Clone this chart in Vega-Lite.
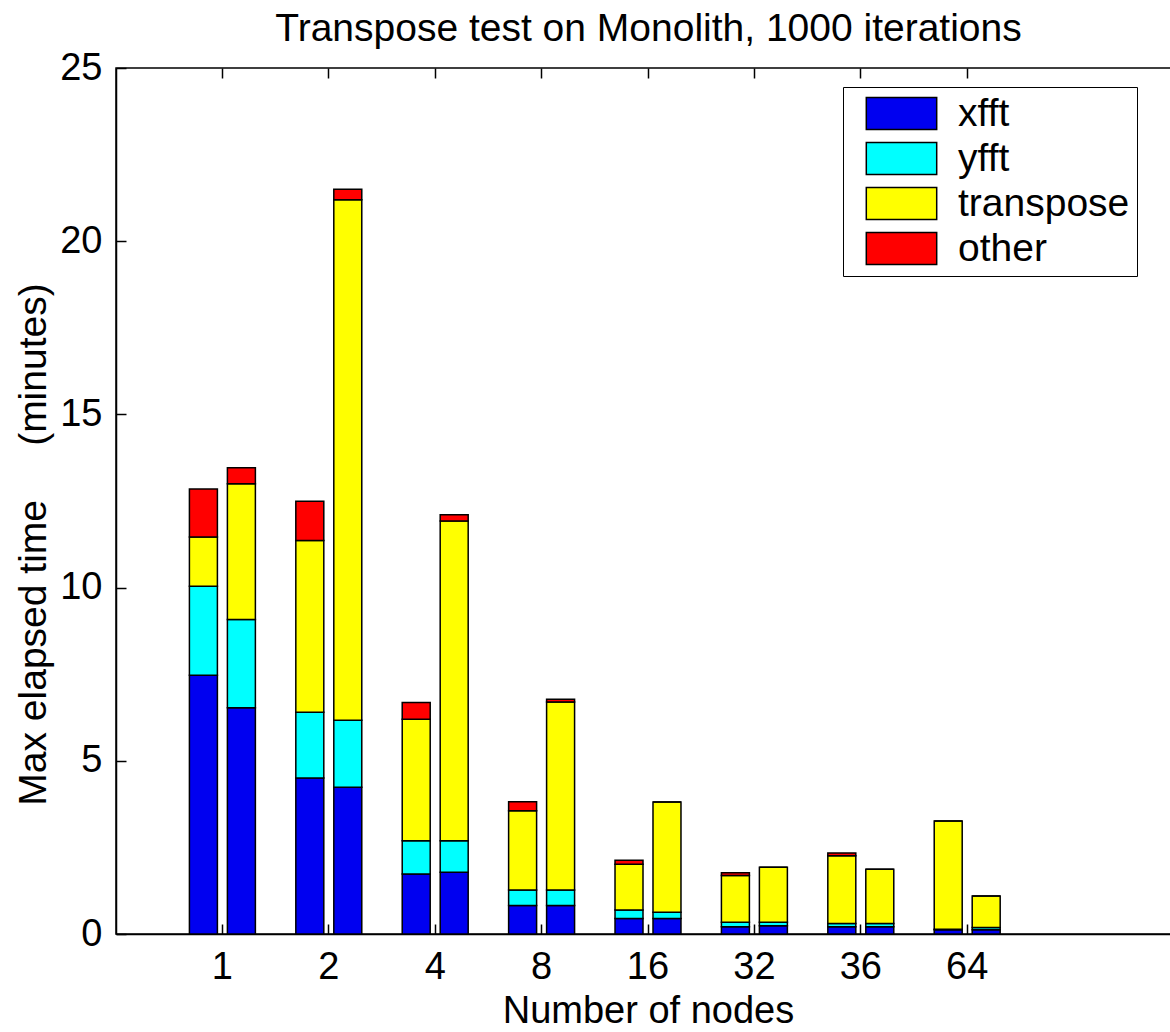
{
  "$schema": "https://vega.github.io/schema/vega-lite/v6.json",
  "width": 1064,
  "height": 866,
  "autosize": {"type": "none"},
  "padding": {"left": 116, "top": 68, "right": 0, "bottom": 98},
  "background": "white",
  "config": {
    "view": {"stroke": "black", "strokeWidth": 1.5},
    "font": "Liberation Sans",
    "axis": {
      "labelFont": "Liberation Sans",
      "labelFontSize": 38,
      "labelColor": "black",
      "titleFont": "Liberation Sans",
      "titleFontSize": 38,
      "titleFontWeight": "normal",
      "titleColor": "black",
      "domainColor": "black",
      "domainWidth": 1.5,
      "tickColor": "black",
      "tickWidth": 1.5,
      "grid": false
    },
    "legend": {
      "labelFont": "Liberation Sans",
      "labelFontSize": 39,
      "labelColor": "black"
    }
  },
  "data": {
    "values": [
      {"nodes": "1", "run": "a", "part": "xfft", "minutes": 7.47},
      {"nodes": "1", "run": "a", "part": "yfft", "minutes": 2.57},
      {"nodes": "1", "run": "a", "part": "transpose", "minutes": 1.42},
      {"nodes": "1", "run": "a", "part": "other", "minutes": 1.39},
      {"nodes": "1", "run": "b", "part": "xfft", "minutes": 6.53},
      {"nodes": "1", "run": "b", "part": "yfft", "minutes": 2.55},
      {"nodes": "1", "run": "b", "part": "transpose", "minutes": 3.92},
      {"nodes": "1", "run": "b", "part": "other", "minutes": 0.46},
      {"nodes": "2", "run": "a", "part": "xfft", "minutes": 4.5},
      {"nodes": "2", "run": "a", "part": "yfft", "minutes": 1.9},
      {"nodes": "2", "run": "a", "part": "transpose", "minutes": 4.96},
      {"nodes": "2", "run": "a", "part": "other", "minutes": 1.13},
      {"nodes": "2", "run": "b", "part": "xfft", "minutes": 4.24},
      {"nodes": "2", "run": "b", "part": "yfft", "minutes": 1.93},
      {"nodes": "2", "run": "b", "part": "transpose", "minutes": 15.03},
      {"nodes": "2", "run": "b", "part": "other", "minutes": 0.3},
      {"nodes": "4", "run": "a", "part": "xfft", "minutes": 1.73},
      {"nodes": "4", "run": "a", "part": "yfft", "minutes": 0.96},
      {"nodes": "4", "run": "a", "part": "transpose", "minutes": 3.51},
      {"nodes": "4", "run": "a", "part": "other", "minutes": 0.48},
      {"nodes": "4", "run": "b", "part": "xfft", "minutes": 1.78},
      {"nodes": "4", "run": "b", "part": "yfft", "minutes": 0.91},
      {"nodes": "4", "run": "b", "part": "transpose", "minutes": 9.23},
      {"nodes": "4", "run": "b", "part": "other", "minutes": 0.18},
      {"nodes": "8", "run": "a", "part": "xfft", "minutes": 0.82},
      {"nodes": "8", "run": "a", "part": "yfft", "minutes": 0.45},
      {"nodes": "8", "run": "a", "part": "transpose", "minutes": 2.29},
      {"nodes": "8", "run": "a", "part": "other", "minutes": 0.26},
      {"nodes": "8", "run": "b", "part": "xfft", "minutes": 0.82},
      {"nodes": "8", "run": "b", "part": "yfft", "minutes": 0.45},
      {"nodes": "8", "run": "b", "part": "transpose", "minutes": 5.43},
      {"nodes": "8", "run": "b", "part": "other", "minutes": 0.08},
      {"nodes": "16", "run": "a", "part": "xfft", "minutes": 0.45},
      {"nodes": "16", "run": "a", "part": "yfft", "minutes": 0.24},
      {"nodes": "16", "run": "a", "part": "transpose", "minutes": 1.32},
      {"nodes": "16", "run": "a", "part": "other", "minutes": 0.12},
      {"nodes": "16", "run": "b", "part": "xfft", "minutes": 0.45},
      {"nodes": "16", "run": "b", "part": "yfft", "minutes": 0.18},
      {"nodes": "16", "run": "b", "part": "transpose", "minutes": 3.18},
      {"nodes": "16", "run": "b", "part": "other", "minutes": 0.0},
      {"nodes": "32", "run": "a", "part": "xfft", "minutes": 0.21},
      {"nodes": "32", "run": "a", "part": "yfft", "minutes": 0.13},
      {"nodes": "32", "run": "a", "part": "transpose", "minutes": 1.35},
      {"nodes": "32", "run": "a", "part": "other", "minutes": 0.08},
      {"nodes": "32", "run": "b", "part": "xfft", "minutes": 0.24},
      {"nodes": "32", "run": "b", "part": "yfft", "minutes": 0.1},
      {"nodes": "32", "run": "b", "part": "transpose", "minutes": 1.59},
      {"nodes": "32", "run": "b", "part": "other", "minutes": 0.0},
      {"nodes": "36", "run": "a", "part": "xfft", "minutes": 0.21},
      {"nodes": "36", "run": "a", "part": "yfft", "minutes": 0.09},
      {"nodes": "36", "run": "a", "part": "transpose", "minutes": 1.96},
      {"nodes": "36", "run": "a", "part": "other", "minutes": 0.08},
      {"nodes": "36", "run": "b", "part": "xfft", "minutes": 0.21},
      {"nodes": "36", "run": "b", "part": "yfft", "minutes": 0.09},
      {"nodes": "36", "run": "b", "part": "transpose", "minutes": 1.57},
      {"nodes": "36", "run": "b", "part": "other", "minutes": 0.0},
      {"nodes": "64", "run": "a", "part": "xfft", "minutes": 0.12},
      {"nodes": "64", "run": "a", "part": "yfft", "minutes": 0.02},
      {"nodes": "64", "run": "a", "part": "transpose", "minutes": 3.12},
      {"nodes": "64", "run": "a", "part": "other", "minutes": 0.0},
      {"nodes": "64", "run": "b", "part": "xfft", "minutes": 0.12},
      {"nodes": "64", "run": "b", "part": "yfft", "minutes": 0.07},
      {"nodes": "64", "run": "b", "part": "transpose", "minutes": 0.91},
      {"nodes": "64", "run": "b", "part": "other", "minutes": 0.0}
    ]
  },
  "layer": [
    {
      "transform": [
        {"calculate": "indexof(['xfft','yfft','transpose','other'], datum.part)", "as": "stackOrder"}
      ],
      "mark": {"type": "bar", "stroke": "black", "strokeWidth": 1.5, "opacity": 1},
      "encoding": {
        "x": {
          "field": "nodes",
          "type": "nominal",
          "scale": {
            "domain": ["1", "2", "4", "8", "16", "32", "36", "64", "pad"],
            "paddingInner": 0.38,
            "paddingOuter": 0.69,
            "align": 0.5
          },
          "axis": {
            "orient": "bottom",
            "values": ["1", "2", "4", "8", "16", "32", "36", "64"],
            "title": "Number of nodes",
            "labelAngle": 0,
            "tickSize": -10,
            "labelPadding": 24,
            "titleY": 88,
            "titleBaseline": "alphabetic"
          }
        },
        "xOffset": {
          "field": "run",
          "type": "nominal",
          "scale": {"paddingInner": 0.263, "paddingOuter": 0}
        },
        "y": {
          "field": "minutes",
          "type": "quantitative",
          "stack": "zero",
          "scale": {"domain": [0, 25], "nice": false},
          "axis": {
            "values": [0, 5, 10, 15, 20, 25],
            "title": "Max elapsed time\u00a0\u00a0\u00a0\u00a0\u00a0(minutes)",
            "titleFontSize": 39,
            "tickSize": -10,
            "labelPadding": 24,
            "titleX": -83,
            "titleY": 476,
            "titleAngle": 270,
            "titleAlign": "center",
            "titleBaseline": "middle"
          }
        },
        "order": {"field": "stackOrder", "type": "quantitative", "sort": "ascending"},
        "color": {
          "field": "part",
          "type": "nominal",
          "scale": {
            "domain": ["xfft", "yfft", "transpose", "other"],
            "range": ["#0000f0", "#00ffff", "#ffff00", "#ff0000"]
          },
          "legend": {
            "title": null,
            "orient": "none",
            "legendX": 727,
            "legendY": 19,
            "padding": 7,
            "strokeColor": "black",
            "fillColor": "white",
            "symbolType": "M-2.2,-1H2.2V1H-2.2Z",
            "symbolSize": 1024,
            "symbolStrokeColor": "black",
            "symbolStrokeWidth": 1.5,
            "symbolOpacity": 1,
            "symbolOffset": 32,
            "labelOffset": 37,
            "labelLimit": 400,
            "rowPadding": 5
          }
        }
      }
    },
    {
      "mark": {"type": "point", "opacity": 0},
      "encoding": {
        "x": {
          "field": "nodes",
          "type": "nominal",
          "scale": {"domain": ["1", "2", "4", "8", "16", "32", "36", "64", "pad"]},
          "axis": {
            "orient": "top",
            "values": ["1", "2", "4", "8", "16", "32", "36", "64"],
            "labels": false,
            "title": "Transpose test on Monolith, 1000 iterations",
            "titleFontSize": 39,
            "titleX": 532,
            "titleY": -28,
            "titleAlign": "center",
            "titleBaseline": "alphabetic",
            "titleAngle": 0,
            "tickSize": -10,
            "domain": false
          }
        },
        "y": {
          "field": "minutes",
          "type": "quantitative",
          "scale": {"domain": [0, 25], "nice": false},
          "axis": {"orient": "right", "labels": false, "title": null, "tickSize": -10, "domain": false, "values": [0, 5, 10, 15, 20, 25]}
        }
      }
    }
  ],
  "resolve": {"axis": {"x": "independent", "y": "independent"}}
}
